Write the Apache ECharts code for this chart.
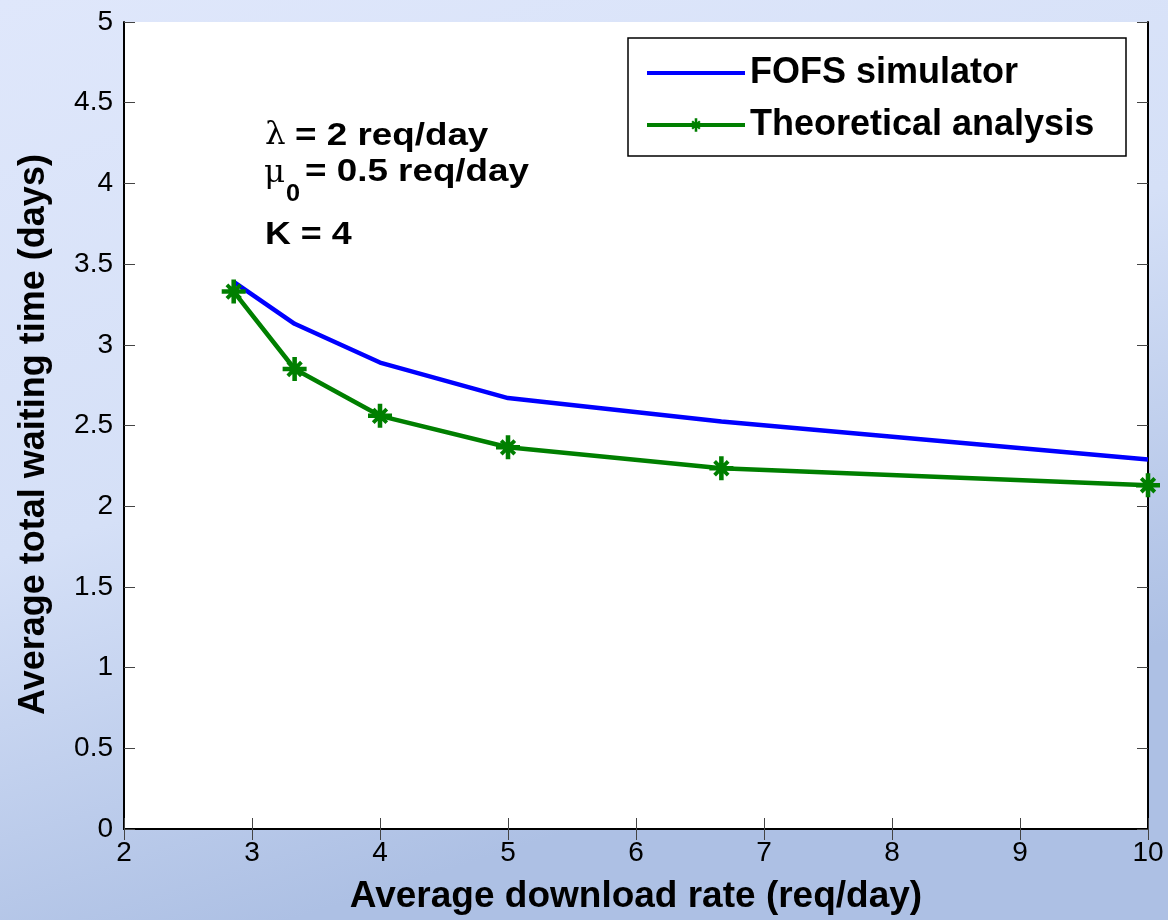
<!DOCTYPE html>
<html>
<head>
<meta charset="utf-8">
<script src="https://cdn.jsdelivr.net/npm/echarts@6/dist/echarts.min.js"></script>
<style>html,body{margin:0;padding:0;}#c{width:1168px;height:920px;}</style>
</head>
<body>
<div id="c"></div>
<script>
var rates = [2.857, 3.333, 4, 5, 6.667, 10];
var simulator = [3.39, 3.13, 2.89, 2.67, 2.525, 2.29];
var theoretical = [3.33, 2.85, 2.56, 2.365, 2.235, 2.13];
var seriesNames = ['FOFS simulator', 'Theoretical analysis'];
var xTicks = [2, 3, 4, 5, 6, 7, 8, 9, 10];
var yTicks = [0, 0.5, 1, 1.5, 2, 2.5, 3, 3.5, 4, 4.5, 5];

function pairs(xs, ys) { return xs.map(function (x, i) { return [x, ys[i]]; }); }

var star = 'path://M-1.9,-10L1.9,-10L1.9,10L-1.9,10Z M-10,-1.9L10,-1.9L10,1.9L-10,1.9Z ' +
  'M-4.5,-6.8L6.8,4.5L4.5,6.8L-6.8,-4.5Z M4.5,-6.8L6.8,-4.5L-4.5,6.8L-6.8,4.5Z';

var sans = 'Liberation Sans, Arial, sans-serif';
var bold32 = 'bold 32px Liberation Sans, Arial, sans-serif';
var greek = '31px DejaVu Serif, serif';
var sx = 1.15;

var chart = echarts.init(document.getElementById('c'));
chart.setOption({
  backgroundColor: {
    type: 'linear', x: 0, y: 0, x2: 0.25, y2: 1,
    colorStops: [{offset: 0, color: '#dfe7fb'}, {offset: 0.55, color: '#d5e0f7'}, {offset: 1, color: '#adc0e4'}]
  },
  animation: false,
  grid: {left: 124, right: 20, top: 22, bottom: 91, show: true, backgroundColor: '#ffffff', borderWidth: 0},
  legend: {
    orient: 'vertical', left: 628, top: 38,
    data: [{name: seriesNames[0], itemStyle: {opacity: 0}}, {name: seriesNames[1]}],
    itemWidth: 98, itemHeight: 17, itemGap: 12,
    padding: [15, 16, 11, 17],
    backgroundColor: '#ffffff', borderColor: '#000000', borderWidth: 1.5,
    lineStyle: {width: 4},
    textStyle: {fontFamily: sans, fontWeight: 'bold', fontSize: 36, lineHeight: 40, width: 360, color: '#000'}
  },
  xAxis: [{
    type: 'value', min: 2, max: 10, interval: 1,
    name: 'Average download rate (req/day)', nameLocation: 'middle', nameGap: 49,
    nameTextStyle: {fontFamily: sans, fontWeight: 'bold', fontSize: 37, color: '#000'},
    axisLine: {show: true, lineStyle: {color: '#000', width: 2}},
    axisTick: {show: true, inside: true, length: 11, lineStyle: {color: '#444', width: 1}},
    axisLabel: {fontFamily: sans, fontSize: 28, color: '#000', margin: 10,
      formatter: function (v) { return xTicks.indexOf(v) >= 0 ? String(v) : ''; }},
    splitLine: {show: false}
  }, {
    type: 'value', min: 2, max: 10, interval: 1, position: 'top',
    axisLine: {show: true, lineStyle: {color: '#000', width: 2}},
    axisTick: {show: true, inside: true, length: 11, lineStyle: {color: '#444', width: 1}},
    axisLabel: {show: false}, splitLine: {show: false}
  }],
  yAxis: [{
    type: 'value', min: 0, max: 5, interval: 0.5,
    name: 'Average total waiting time (days)', nameLocation: 'middle', nameGap: 72, nameRotate: 90,
    nameTextStyle: {fontFamily: sans, fontWeight: 'bold', fontSize: 36, color: '#000', padding: [0, 18, 0, 0]},
    axisLine: {show: true, lineStyle: {color: '#000', width: 2}},
    axisTick: {show: true, inside: true, length: 11, lineStyle: {color: '#444', width: 1}},
    axisLabel: {fontFamily: sans, fontSize: 28, color: '#000', margin: 11,
      formatter: function (v) { return yTicks.indexOf(v) >= 0 ? String(v) : ''; }},
    splitLine: {show: false}
  }, {
    type: 'value', min: 0, max: 5, interval: 0.5, position: 'right',
    axisLine: {show: true, lineStyle: {color: '#000', width: 2}},
    axisTick: {show: true, inside: true, length: 11, lineStyle: {color: '#444', width: 1}},
    axisLabel: {show: false}, splitLine: {show: false}
  }],
  series: [{
    name: seriesNames[0], type: 'line', symbol: 'none',
    data: pairs(rates, simulator),
    lineStyle: {color: '#0000ff', width: 4.5}, itemStyle: {color: '#0000ff'}, z: 3
  }, {
    name: seriesNames[1], type: 'line', symbol: star, symbolSize: 24,
    data: pairs(rates, theoretical),
    lineStyle: {color: '#007f00', width: 4.5}, itemStyle: {color: '#007f00'}, z: 4
  }],
  graphic: [
    {type: 'text', x: 265, y: 136, scaleX: 1.05, style: {text: 'λ', font: greek, fill: '#000', verticalAlign: 'middle'}},
    {type: 'text', x: 295, y: 136, scaleX: sx, style: {text: '= 2 req/day', font: bold32, fill: '#000', verticalAlign: 'middle'}},
    {type: 'text', x: 264, y: 174, scaleX: 1.05, style: {text: 'μ', font: greek, fill: '#000', verticalAlign: 'middle'}},
    {type: 'text', x: 286, y: 195, scaleX: 1.1, style: {text: '0', font: 'bold 23px Liberation Sans, Arial, sans-serif', fill: '#000', verticalAlign: 'middle'}},
    {type: 'text', x: 305, y: 172, scaleX: sx, style: {text: '= 0.5 req/day', font: bold32, fill: '#000', verticalAlign: 'middle'}},
    {type: 'text', x: 265, y: 235, scaleX: 1.12, style: {text: 'K = 4', font: bold32, fill: '#000', verticalAlign: 'middle'}}
  ]
});
</script>
</body>
</html>
